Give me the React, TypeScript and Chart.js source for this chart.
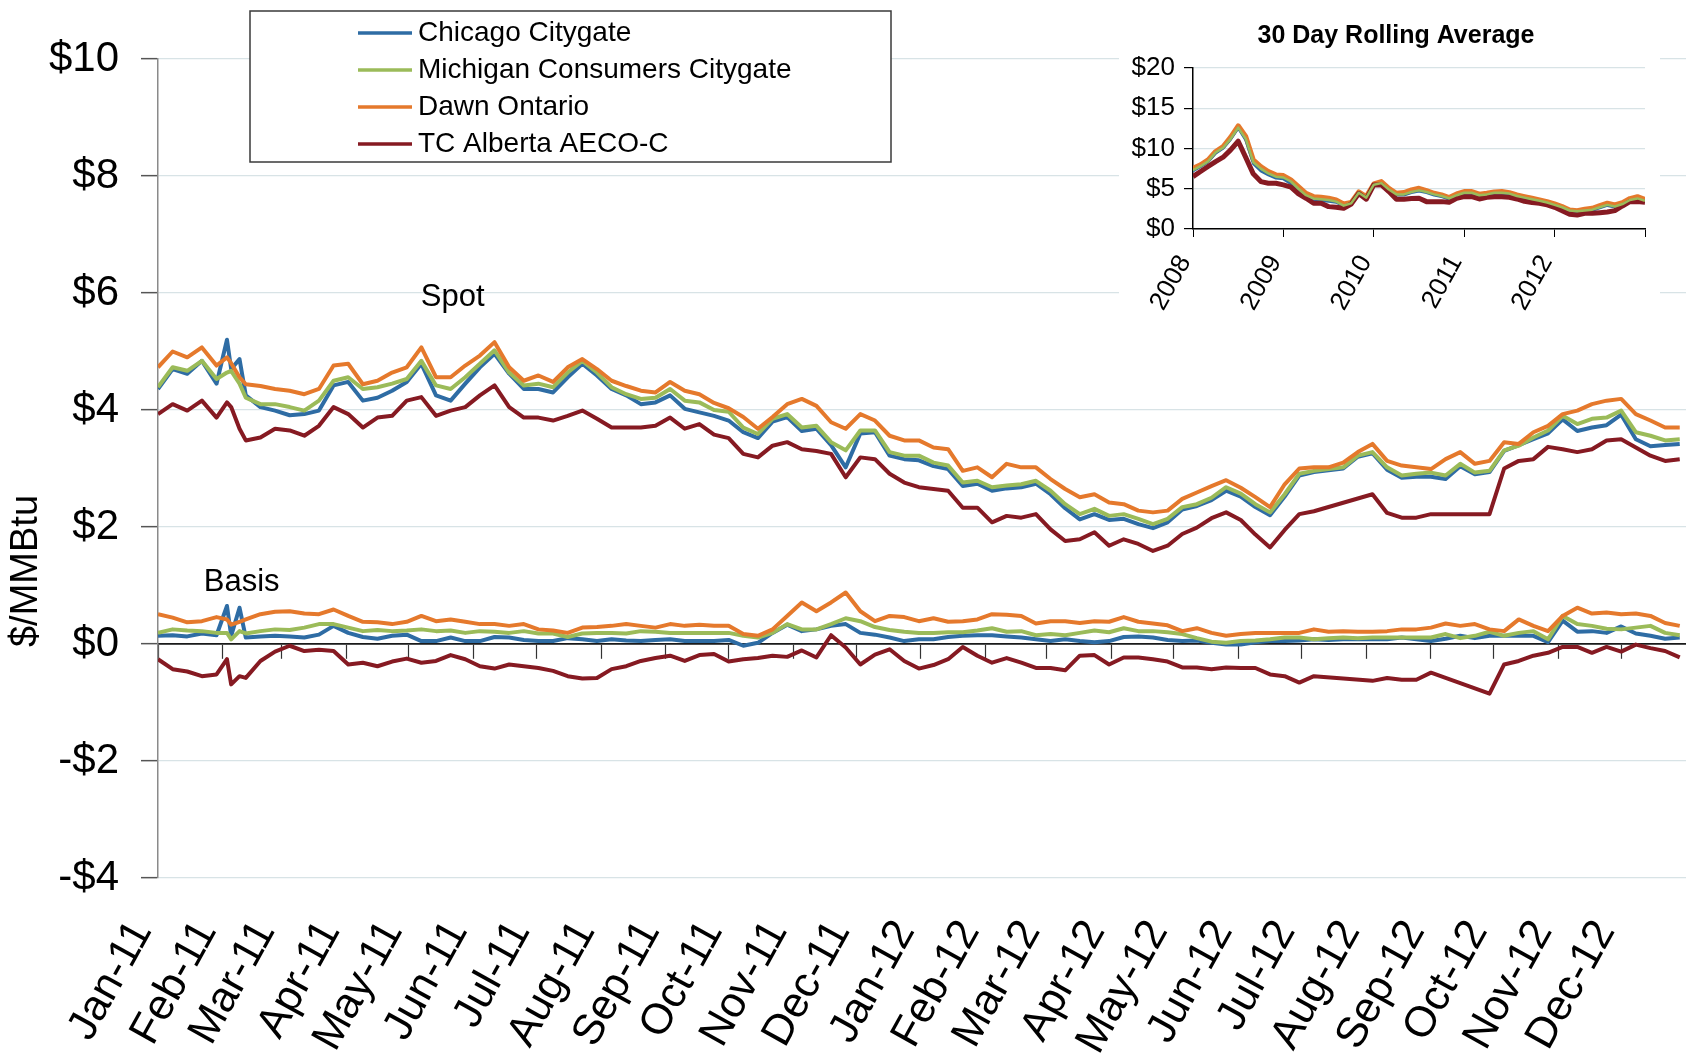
import React, { useEffect, useRef } from 'react';
import { Chart, registerables } from 'chart.js';

Chart.register(...registerables);

const FONT = '"Liberation Sans", Arial, Helvetica, sans-serif';
const W = 1686;
const H = 1053;

// ---------- main chart data (x = days since 1 Jan 2011) ----------
const days = [
  0, 7, 14, 21, 28, 33, 35, 39, 42, 49, 56, 63, 70, 77, 84, 91, 98, 105, 112, 119,
  126, 133, 140, 147, 154, 161, 168, 175, 182, 189, 196, 203, 210, 217, 224, 231, 238, 245, 252, 259,
  266, 273, 280, 287, 294, 301, 308, 315, 322, 329, 336, 343, 350, 357, 364, 371, 378, 385, 392, 399,
  406, 413, 420, 427, 434, 441, 448, 455, 462, 469, 476, 483, 490, 497, 504, 511, 518, 525, 532, 539,
  546, 553, 560, 567, 574, 581, 588, 595, 602, 609, 616, 623, 630, 637, 644, 651, 658, 665, 672, 679,
  686, 693, 700, 707, 714, 721, 728,
];

const monthStartDays = [0, 31, 59, 90, 120, 151, 181, 212, 243, 273, 304, 334, 365, 396, 425, 456, 486, 517, 547, 578, 609, 639, 670, 700];
const monthLabels = [
  'Jan-11', 'Feb-11', 'Mar-11', 'Apr-11', 'May-11', 'Jun-11', 'Jul-11', 'Aug-11', 'Sep-11', 'Oct-11', 'Nov-11', 'Dec-11',
  'Jan-12', 'Feb-12', 'Mar-12', 'Apr-12', 'May-12', 'Jun-12', 'Jul-12', 'Aug-12', 'Sep-12', 'Oct-12', 'Nov-12', 'Dec-12',
];
const dayRange = [0, 731];
const yTickValues = [-4, -2, 0, 2, 4, 6, 8, 10];

const seriesNames = ['Chicago Citygate', 'Michigan Consumers Citygate', 'Dawn Ontario', 'TC Alberta AECO-C'];
const seriesColors = ['#2e6ca4', '#9bbb59', '#e5792c', '#861a22'];

const chicagoSpot = [
  4.36, 4.70, 4.62, 4.84, 4.45, 5.20, 4.70, 4.87,
  4.25, 4.05, 3.99, 3.91, 3.93, 3.99, 4.42, 4.48, 4.16, 4.21,
  4.33, 4.48, 4.79, 4.25, 4.16, 4.45, 4.73, 4.96, 4.62, 4.36,
  4.36, 4.30, 4.56, 4.79, 4.59, 4.36, 4.25, 4.10, 4.13, 4.25,
  4.02, 3.96, 3.90, 3.82, 3.62, 3.52, 3.80, 3.88, 3.64, 3.68,
  3.40, 3.02, 3.60, 3.62, 3.22, 3.16, 3.14, 3.04, 2.99, 2.70,
  2.74, 2.62, 2.66, 2.68, 2.74, 2.56, 2.32, 2.13, 2.22, 2.12,
  2.14, 2.05, 1.98, 2.08, 2.30, 2.36, 2.46, 2.62, 2.52, 2.34,
  2.20, 2.52, 2.88, 2.94, 2.97, 3.00, 3.20, 3.26, 2.98, 2.84,
  2.86, 2.86, 2.82, 3.04, 2.90, 2.94, 3.30, 3.40, 3.50, 3.60,
  3.84, 3.64, 3.70, 3.74, 3.92, 3.50, 3.38, 3.40, 3.42,
];
const michiganSpot = [
  4.39, 4.73, 4.67, 4.84, 4.53, 4.64, 4.67, 4.45,
  4.21, 4.10, 4.10, 4.05, 3.99, 4.16, 4.50, 4.56, 4.36, 4.39,
  4.45, 4.53, 4.84, 4.42, 4.36, 4.56, 4.79, 5.02, 4.64, 4.42,
  4.45, 4.39, 4.64, 4.84, 4.64, 4.39, 4.27, 4.19, 4.21, 4.36,
  4.16, 4.13, 4.00, 3.97, 3.70, 3.59, 3.85, 3.93, 3.70, 3.73,
  3.45, 3.31, 3.65, 3.65, 3.28, 3.22, 3.22, 3.10, 3.05, 2.76,
  2.79, 2.68, 2.71, 2.73, 2.79, 2.62, 2.39, 2.22, 2.31, 2.19,
  2.22, 2.14, 2.05, 2.14, 2.34, 2.39, 2.50, 2.68, 2.57, 2.39,
  2.25, 2.56, 2.91, 2.96, 2.99, 3.02, 3.22, 3.28, 3.02, 2.88,
  2.91, 2.93, 2.88, 3.08, 2.93, 2.96, 3.31, 3.39, 3.53, 3.65,
  3.90, 3.76, 3.85, 3.87, 3.99, 3.62, 3.56, 3.48, 3.50,
];
const dawnSpot = [
  4.73, 5.00, 4.90, 5.07, 4.76, 4.90, 4.80, 4.56,
  4.44, 4.41, 4.36, 4.33, 4.27, 4.36, 4.76, 4.79, 4.44, 4.50,
  4.64, 4.73, 5.07, 4.56, 4.56, 4.76, 4.93, 5.16, 4.73, 4.50,
  4.59, 4.48, 4.73, 4.87, 4.70, 4.50, 4.41, 4.33, 4.30, 4.48,
  4.33, 4.27, 4.12, 4.03, 3.88, 3.68, 3.88, 4.10, 4.19, 4.07,
  3.79, 3.68, 3.93, 3.82, 3.56, 3.48, 3.48, 3.36, 3.33, 2.96,
  3.02, 2.85, 3.08, 3.02, 3.02, 2.82, 2.65, 2.51, 2.56, 2.42,
  2.39, 2.28, 2.25, 2.28, 2.48, 2.59, 2.70, 2.80, 2.67, 2.51,
  2.34, 2.73, 3.00, 3.02, 3.02, 3.10, 3.28, 3.42, 3.13, 3.05,
  3.02, 2.99, 3.16, 3.28, 3.08, 3.13, 3.45, 3.42, 3.62, 3.73,
  3.93, 3.99, 4.10, 4.16, 4.19, 3.93, 3.82, 3.70, 3.70,
];
const aecoSpot = [
  3.93, 4.10, 3.99, 4.16, 3.87, 4.13, 4.05, 3.68,
  3.48, 3.53, 3.68, 3.65, 3.56, 3.73, 4.05, 3.93, 3.70, 3.87,
  3.90, 4.16, 4.22, 3.90, 3.99, 4.05, 4.25, 4.42, 4.05, 3.87,
  3.87, 3.82, 3.90, 3.99, 3.85, 3.70, 3.70, 3.70, 3.73, 3.87,
  3.68, 3.76, 3.58, 3.52, 3.25, 3.19, 3.39, 3.45, 3.33, 3.30,
  3.25, 2.85, 3.19, 3.16, 2.91, 2.76, 2.68, 2.65, 2.62, 2.33,
  2.33, 2.08, 2.19, 2.16, 2.22, 1.96, 1.76, 1.79, 1.91, 1.68,
  1.79, 1.71, 1.59, 1.68, 1.88, 1.99, 2.15, 2.25, 2.12, 1.87,
  1.65, 1.95, 2.22, 2.27, null, null, null, 2.56, 2.24, 2.16,
  2.16, 2.22, null, null, null, 2.22, 3.00, 3.13, 3.16, 3.37,
  3.33, 3.28, 3.33, 3.48, 3.50, 3.36, 3.22, 3.13, 3.16,
];

const chicagoBasis = [
  0.14, 0.15, 0.13, 0.18, 0.15, 0.65, 0.14, 0.62,
  0.11, 0.13, 0.14, 0.13, 0.11, 0.16, 0.31, 0.19, 0.12, 0.09,
  0.14, 0.16, 0.05, 0.05, 0.11, 0.05, 0.05, 0.12, 0.11, 0.07,
  0.05, 0.05, 0.10, 0.08, 0.05, 0.08, 0.06, 0.05, 0.07, 0.08,
  0.05, 0.05, 0.05, 0.07, -0.03, 0.02, 0.19, 0.33, 0.22, 0.25,
  0.31, 0.34, 0.19, 0.16, 0.11, 0.05, 0.08, 0.08, 0.12, 0.14,
  0.15, 0.15, 0.13, 0.11, 0.08, 0.05, 0.08, 0.05, 0.03, 0.05,
  0.12, 0.13, 0.11, 0.07, 0.05, 0.06, 0.02, -0.01, -0.01, 0.03,
  0.05, 0.05, 0.06, 0.08, 0.07, 0.08, 0.08, 0.08, 0.08, 0.11,
  0.08, 0.05, 0.09, 0.14, 0.10, 0.14, 0.14, 0.14, 0.14, 0.03,
  0.40, 0.21, 0.22, 0.19, 0.30, 0.18, 0.14, 0.09, 0.11,
];
const michiganBasis = [
  0.19, 0.25, 0.23, 0.22, 0.19, 0.19, 0.08, 0.22,
  0.18, 0.22, 0.25, 0.24, 0.28, 0.34, 0.34, 0.28, 0.22, 0.24,
  0.22, 0.23, 0.25, 0.22, 0.23, 0.19, 0.22, 0.21, 0.19, 0.22,
  0.18, 0.18, 0.12, 0.18, 0.19, 0.19, 0.18, 0.22, 0.21, 0.19,
  0.19, 0.19, 0.19, 0.19, 0.14, 0.11, 0.19, 0.34, 0.25, 0.25,
  0.34, 0.44, 0.39, 0.29, 0.24, 0.21, 0.19, 0.19, 0.20, 0.20,
  0.23, 0.27, 0.21, 0.22, 0.15, 0.17, 0.15, 0.19, 0.23, 0.20,
  0.27, 0.22, 0.22, 0.20, 0.17, 0.10, 0.04, 0.02, 0.05, 0.06,
  0.08, 0.11, 0.11, 0.08, 0.10, 0.11, 0.10, 0.11, 0.11, 0.11,
  0.11, 0.11, 0.17, 0.10, 0.14, 0.21, 0.14, 0.19, 0.22, 0.08,
  0.48, 0.34, 0.31, 0.26, 0.25, 0.28, 0.31, 0.19, 0.15,
];
const dawnBasis = [
  0.51, 0.45, 0.37, 0.39, 0.46, 0.42, 0.33, 0.38,
  0.42, 0.51, 0.55, 0.56, 0.52, 0.51, 0.59, 0.48, 0.38, 0.37,
  0.34, 0.38, 0.48, 0.39, 0.42, 0.38, 0.34, 0.34, 0.31, 0.34,
  0.25, 0.23, 0.19, 0.28, 0.29, 0.31, 0.34, 0.31, 0.28, 0.34,
  0.31, 0.33, 0.31, 0.31, 0.17, 0.14, 0.25, 0.48, 0.71, 0.56,
  0.71, 0.88, 0.56, 0.39, 0.48, 0.46, 0.39, 0.44, 0.38, 0.39,
  0.42, 0.51, 0.50, 0.48, 0.35, 0.39, 0.39, 0.36, 0.39, 0.38,
  0.46, 0.38, 0.35, 0.32, 0.22, 0.27, 0.19, 0.14, 0.17, 0.19,
  0.19, 0.19, 0.19, 0.25, 0.21, 0.22, 0.21, 0.21, 0.22, 0.25,
  0.25, 0.28, 0.35, 0.31, 0.34, 0.25, 0.22, 0.42, 0.31, 0.22,
  0.48, 0.62, 0.52, 0.54, 0.51, 0.52, 0.48, 0.36, 0.31,
];
const aecoBasis = [
  -0.26, -0.43, -0.47, -0.55, -0.52, -0.26, -0.69, -0.55,
  -0.58, -0.29, -0.13, -0.03, -0.12, -0.10, -0.12, -0.35, -0.32, -0.38,
  -0.30, -0.25, -0.32, -0.29, -0.19, -0.26, -0.38, -0.42, -0.35, -0.38,
  -0.41, -0.46, -0.55, -0.59, -0.58, -0.43, -0.38, -0.29, -0.24, -0.20,
  -0.29, -0.19, -0.17, -0.30, -0.26, -0.24, -0.20, -0.22, -0.11, -0.23,
  0.15, -0.06, -0.35, -0.18, -0.09, -0.29, -0.42, -0.36, -0.26, -0.05,
  -0.20, -0.32, -0.24, -0.32, -0.41, -0.41, -0.45, -0.20, -0.19, -0.35,
  -0.23, -0.23, -0.26, -0.30, -0.40, -0.40, -0.43, -0.40, -0.41, -0.41,
  -0.52, -0.55, -0.66, -0.55, null, null, null, -0.63, -0.58, -0.61,
  -0.61, -0.49, null, null, null, -0.85, -0.35, -0.29, -0.20, -0.15,
  -0.05, -0.05, -0.15, -0.05, -0.13, -0.01, -0.07, -0.12, -0.23,
];

// ---------- inset (30 day rolling average, monthly, Jan 2008 .. Dec 2012 end) ----------
const insetYearLabels = ['2008', '2009', '2010', '2011', '2012'];
const insetYearTicks = [0, 12, 24, 36, 48, 60];
const insetYTicks = [0, 5, 10, 15, 20];
const insetChicago = [
  7.2, 7.7, 8.3, 9.4, 10.0, 11.1, 12.5, 11.0, 8.1, 7.2,
  6.7, 6.3, 6.2, 5.6, 4.7, 3.9, 3.5, 3.5, 3.4, 3.3,
  2.8, 3.2, 4.5, 3.9, 5.5, 5.6, 4.8, 4.2, 4.2, 4.5,
  4.7, 4.5, 4.2, 4.0, 3.7, 4.1, 4.4, 4.4, 4.1, 4.2,
  4.4, 4.4, 4.3, 4.0, 3.8, 3.6, 3.4, 3.2, 2.9, 2.6,
  2.2, 2.1, 2.2, 2.3, 2.6, 2.9, 2.7, 3.0, 3.5, 3.7,
  3.4,
];
const insetMichigan = [
  7.3, 7.8, 8.4, 9.5, 10.1, 11.2, 12.6, 11.2, 8.3, 7.5,
  6.9, 6.5, 6.4, 5.9, 5.0, 4.2, 3.8, 3.7, 3.6, 3.4,
  2.9, 3.2, 4.5, 3.9, 5.5, 5.7, 4.9, 4.3, 4.3, 4.6,
  4.8, 4.6, 4.3, 4.1, 3.8, 4.2, 4.5, 4.5, 4.2, 4.3,
  4.5, 4.5, 4.4, 4.1, 3.9, 3.7, 3.5, 3.3, 3.0, 2.7,
  2.3, 2.2, 2.3, 2.4, 2.7, 3.0, 2.8, 3.1, 3.6, 3.8,
  3.5,
];
const insetDawn = [
  7.55, 7.97, 8.59, 9.63, 10.25, 11.41, 12.82, 11.5, 8.59, 7.76,
  7.14, 6.72, 6.64, 6.10, 5.27, 4.44, 4.02, 3.94, 3.82, 3.61,
  3.11, 3.3, 4.6, 4.02, 5.6, 5.89, 5.06, 4.44, 4.52, 4.85,
  5.06, 4.77, 4.44, 4.23, 3.90, 4.36, 4.65, 4.65, 4.32, 4.44,
  4.61, 4.65, 4.52, 4.23, 4.02, 3.82, 3.61, 3.40, 3.11, 2.78,
  2.37, 2.28, 2.45, 2.57, 2.90, 3.20, 2.99, 3.28, 3.78, 4.02,
  3.69,
];
const insetAeco = [
  6.51, 7.14, 7.76, 8.38, 8.92, 9.83, 10.9, 8.9, 6.85, 5.89,
  5.68, 5.68, 5.48, 5.19, 4.36, 3.82, 3.20, 3.20, 2.78, 2.70,
  2.57, 3.1, 4.4, 3.7, 5.48, 5.48, 4.65, 3.69, 3.69, 3.78,
  3.82, 3.40, 3.40, 3.40, 3.32, 3.82, 4.02, 4.02, 3.73, 3.94,
  4.02, 4.02, 3.94, 3.73, 3.44, 3.28, 3.20, 2.99, 2.70, 2.28,
  1.83, 1.74, 1.95, 1.95, 2.03, 2.12, 2.28, 2.86, 3.40, 3.40,
  3.32,
];

// ---------- layout / style constants ----------
const MAIN_LAYOUT = { top: 59, yAxisWidth: 158, xAxisHeight: 175 };
const LEGEND_BOX = { x: 250, y: 11, w: 641, h: 151, lineX0: 358, lineX1: 412, textX: 418, firstRow: 33, rowGap: 37 };
const textNotes = [
  { text: 'Spot', day: 141, value: 5.92 },
  { text: 'Basis', day: 40, value: 1.06 },
];
const AXIS_TITLE = { text: '$/MMBtu', x: 27, y: 571 };
const INSET = { left: 1119, top: 0, w: 541, h: 340, title: '30 Day Rolling Average', titleX: 277, titleY: 36 };

const dollar = (v: number) => (v < 0 ? `-$${Math.abs(v)}` : `$${v}`);
const pts = (xs: number[], ys: (number | null)[]) => xs.map((x, i) => ({ x, y: ys[i] }));

const legendPlugin = {
  id: 'boxLegend',
  afterDraw(chart: any) {
    const ctx = chart.ctx;
    const L = LEGEND_BOX;
    ctx.save();
    ctx.fillStyle = '#ffffff';
    ctx.fillRect(L.x, L.y, L.w, L.h);
    ctx.strokeStyle = '#3a3a3a';
    ctx.lineWidth = 1.5;
    ctx.strokeRect(L.x, L.y, L.w, L.h);
    ctx.font = `28px ${FONT}`;
    ctx.textBaseline = 'middle';
    ctx.textAlign = 'left';
    seriesNames.forEach((name, i) => {
      const y = L.firstRow + i * L.rowGap;
      ctx.strokeStyle = seriesColors[i];
      ctx.lineWidth = 3.5;
      ctx.beginPath();
      ctx.moveTo(L.lineX0, y);
      ctx.lineTo(L.lineX1, y);
      ctx.stroke();
      ctx.fillStyle = '#000';
      ctx.fillText(name, L.textX, y);
    });
    ctx.restore();
  },
};

const notesPlugin = {
  id: 'notes',
  afterDatasetsDraw(chart: any) {
    const { ctx } = chart;
    const xs = chart.scales.x;
    const ys = chart.scales.y;
    ctx.save();
    ctx.fillStyle = '#000';
    ctx.textAlign = 'center';
    ctx.textBaseline = 'middle';
    ctx.font = `31px ${FONT}`;
    textNotes.forEach((n) => ctx.fillText(n.text, xs.getPixelForValue(n.day), ys.getPixelForValue(n.value)));
    ctx.translate(AXIS_TITLE.x, AXIS_TITLE.y);
    ctx.rotate(-Math.PI / 2);
    ctx.font = `38px ${FONT}`;
    ctx.fillText(AXIS_TITLE.text, 0, 0);
    ctx.restore();
  },
};

const insetTitlePlugin = {
  id: 'insetTitle',
  afterDraw(chart: any) {
    const ctx = chart.ctx;
    ctx.save();
    ctx.fillStyle = '#000';
    ctx.font = `bold 25px ${FONT}`;
    ctx.textAlign = 'center';
    ctx.textBaseline = 'middle';
    ctx.fillText(INSET.title, INSET.titleX, INSET.titleY);
    ctx.restore();
  },
};

function mainConfig(): any {
  const spot = [chicagoSpot, michiganSpot, dawnSpot, aecoSpot];
  const basis = [chicagoBasis, michiganBasis, dawnBasis, aecoBasis];
  const datasets: any[] = [];
  const add = (arr: (number | null)[], i: number, suffix: string) =>
    datasets.push({
      label: seriesNames[i] + suffix,
      data: pts(days, arr),
      borderColor: seriesColors[i],
      backgroundColor: seriesColors[i],
      borderWidth: 4,
      pointRadius: 0,
      tension: 0,
      spanGaps: true,
      borderJoinStyle: 'round',
      order: 4 - i,
    });
  spot.forEach((arr, i) => add(arr, i, ''));
  basis.forEach((arr, i) => add(arr, i, ' basis'));
  const monthTicks = (s: any) => {
    s.ticks = monthStartDays.map((v) => ({ value: v }));
  };
  return {
    type: 'line',
    data: { datasets },
    options: {
      responsive: false,
      animation: false,
      devicePixelRatio: 1,
      events: [],
      layout: { padding: { top: MAIN_LAYOUT.top, left: 0, right: 0, bottom: 0 } },
      plugins: { legend: { display: false }, tooltip: { enabled: false }, title: { display: false } },
      scales: {
        x: {
          type: 'linear',
          min: dayRange[0],
          max: dayRange[1],
          position: 'bottom',
          afterBuildTicks: monthTicks,
          grid: { display: false },
          border: { display: false },
          ticks: {
            autoSkip: false,
            minRotation: 61,
            maxRotation: 61,
            padding: 26,
            labelOffset: -16,
            color: '#000',
            font: { family: FONT, size: 43 },
            callback: (v: number) => monthLabels[monthStartDays.indexOf(v)] ?? '',
          },
          afterFit: (s: any) => {
            s.height = MAIN_LAYOUT.xAxisHeight;
            s.paddingLeft = 0;
            s.paddingRight = 0;
          },
        },
        x2: {
          type: 'linear',
          axis: 'x',
          min: dayRange[0],
          max: dayRange[1],
          position: { y: 0 },
          afterBuildTicks: monthTicks,
          grid: { display: true, drawOnChartArea: false, drawTicks: true, tickLength: 14, color: '#333', tickColor: '#333', tickWidth: 1.2 },
          border: { display: true, color: '#1a1a1a', width: 1.8 },
          ticks: { display: false },
          afterFit: (s: any) => {
            s.paddingLeft = 0;
            s.paddingRight = 0;
            s.paddingTop = 0;
            s.paddingBottom = 0;
          },
        },
        y: {
          type: 'linear',
          min: -4,
          max: 10,
          afterBuildTicks: (s: any) => {
            s.ticks = yTickValues.map((v) => ({ value: v }));
          },
          grid: { color: '#d8e3e6', lineWidth: 1.3, tickLength: 17, tickColor: '#555', tickWidth: 1.5 },
          border: { color: '#8a8a8a', width: 1.5 },
          ticks: {
            padding: 22,
            color: '#000',
            font: { family: FONT, size: 42 },
            callback: (v: number) => dollar(v),
          },
          afterFit: (s: any) => {
            s.width = MAIN_LAYOUT.yAxisWidth;
            s.paddingTop = 0;
            s.paddingBottom = 0;
          },
        },
      },
    },
    plugins: [notesPlugin, legendPlugin],
  };
}

function insetConfig(): any {
  const arrs = [insetChicago, insetMichigan, insetDawn, insetAeco];
  const widths = [2.5, 2.5, 5, 5];
  const datasets = arrs.map((arr, i) => ({
    label: seriesNames[i],
    data: arr.map((v, j) => ({ x: j, y: v })),
    borderColor: seriesColors[i],
    backgroundColor: seriesColors[i],
    borderWidth: widths[i],
    pointRadius: 0,
    tension: 0,
    borderJoinStyle: 'round',
    order: i === 0 ? 2 : i === 1 ? 1 : 4 - i,
  }));
  return {
    type: 'line',
    data: { datasets },
    options: {
      responsive: false,
      animation: false,
      devicePixelRatio: 1,
      events: [],
      layout: { padding: { top: 68, right: 15, left: 0, bottom: 0 } },
      plugins: { legend: { display: false }, tooltip: { enabled: false } },
      scales: {
        x: {
          type: 'linear',
          min: insetYearTicks[0],
          max: insetYearTicks[insetYearTicks.length - 1],
          afterBuildTicks: (s: any) => {
            s.ticks = insetYearTicks.map((v) => ({ value: v }));
          },
          grid: { drawOnChartArea: false, drawTicks: true, tickLength: 8, color: '#000' },
          border: { color: '#000', width: 1.5 },
          ticks: {
            autoSkip: false,
            minRotation: 61,
            maxRotation: 61,
            padding: 13,
            labelOffset: -8,
            color: '#000',
            font: { family: FONT, size: 26 },
            callback: (v: number) => insetYearLabels[insetYearTicks.indexOf(v)] ?? '',
          },
          afterFit: (s: any) => {
            s.height = 111;
            s.paddingLeft = 0;
            s.paddingRight = 0;
          },
        },
        y: {
          min: 0,
          max: 20,
          afterBuildTicks: (s: any) => {
            s.ticks = insetYTicks.map((v) => ({ value: v }));
          },
          grid: { color: '#d8e3e6', lineWidth: 1.2, tickLength: 9, tickColor: '#000' },
          border: { color: '#000', width: 1.5 },
          ticks: {
            padding: 9,
            color: '#000',
            font: { family: FONT, size: 26 },
            callback: (v: number) => dollar(v),
          },
          afterFit: (s: any) => {
            s.width = 74;
            s.paddingTop = 0;
            s.paddingBottom = 0;
          },
        },
      },
    },
    plugins: [insetTitlePlugin],
  };
}

export default function App() {
  const mainRef = useRef<HTMLCanvasElement>(null);
  const insetRef = useRef<HTMLCanvasElement>(null);

  useEffect(() => {
    const main = new Chart(mainRef.current as HTMLCanvasElement, mainConfig());
    const inset = new Chart(insetRef.current as HTMLCanvasElement, insetConfig());
    return () => {
      main.destroy();
      inset.destroy();
    };
  }, []);

  return (
    <div style={{ position: 'fixed', left: 0, top: 0, width: W, height: H, background: '#fff', overflow: 'hidden' }}>
      <canvas ref={mainRef} width={W} height={H} style={{ position: 'absolute', left: 0, top: 0, display: 'block' }} />
      <div
        style={{
          position: 'absolute',
          left: INSET.left,
          top: INSET.top,
          width: INSET.w,
          height: INSET.h,
          background: '#fff',
        }}
      >
        <canvas ref={insetRef} width={INSET.w} height={INSET.h} style={{ display: 'block' }} />
      </div>
    </div>
  );
}
